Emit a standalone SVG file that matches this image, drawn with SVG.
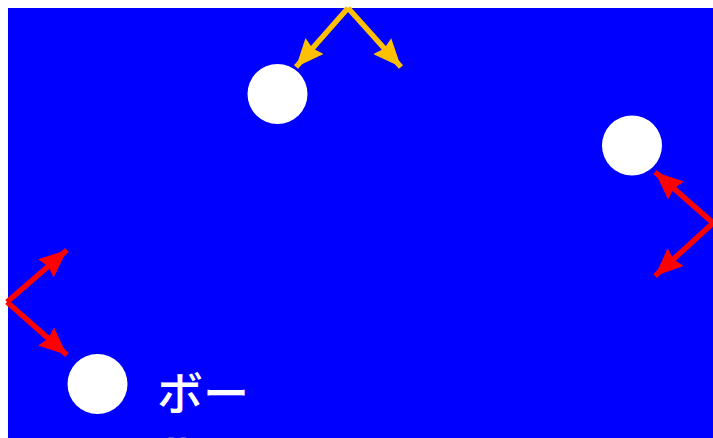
<svg xmlns="http://www.w3.org/2000/svg" width="713" height="438" viewBox="0 0 713 438">
<style>
.ball{fill:#ffffff;}
.lbl{fill:#ffffff;font-family:"Noto Sans CJK JP","Noto Sans",sans-serif;font-size:46px;font-weight:500;}
.ar{stroke:#ff0000;stroke-width:5.5;fill:none;}
.ay{stroke:#ffc000;stroke-width:5.5;fill:none;}
</style>
<defs>
<marker id="mr" markerUnits="userSpaceOnUse" markerWidth="30" markerHeight="24" refX="28" refY="12" orient="auto"><path d="M0,0 L28,12 L0,24 L3,12 Z" fill="#ff0000"/></marker>
<marker id="my" markerUnits="userSpaceOnUse" markerWidth="30" markerHeight="24" refX="28" refY="12" orient="auto"><path d="M0,0 L28,12 L0,24 L3,12 Z" fill="#ffc000"/></marker>
</defs>
<rect x="8" y="8" width="705" height="430" fill="#0000ff"/>
<g id="ball1"><circle class="ball" cx="277.5" cy="94" r="30"/></g>
<g id="ball2"><circle class="ball" cx="632" cy="145.5" r="30"/></g>
<g id="ball3"><circle class="ball" cx="97.5" cy="384" r="30"/><text class="lbl" x="157" y="410">ボー<tspan x="157" dy="62">ル</tspan></text></g>
<g id="connectors">
<line class="ay" x1="348" y1="8" x2="296" y2="67" marker-end="url(#my)"/>
<line class="ay" x1="348" y1="8" x2="401" y2="67" marker-end="url(#my)"/>
<line class="ar" x1="713" y1="223" x2="655" y2="172" marker-end="url(#mr)"/>
<line class="ar" x1="713" y1="223" x2="655" y2="276" marker-end="url(#mr)"/>
<line class="ar" x1="7" y1="302" x2="67" y2="250" marker-end="url(#mr)"/>
<line class="ar" x1="7" y1="302" x2="67" y2="355" marker-end="url(#mr)"/>
</g>
</svg>
